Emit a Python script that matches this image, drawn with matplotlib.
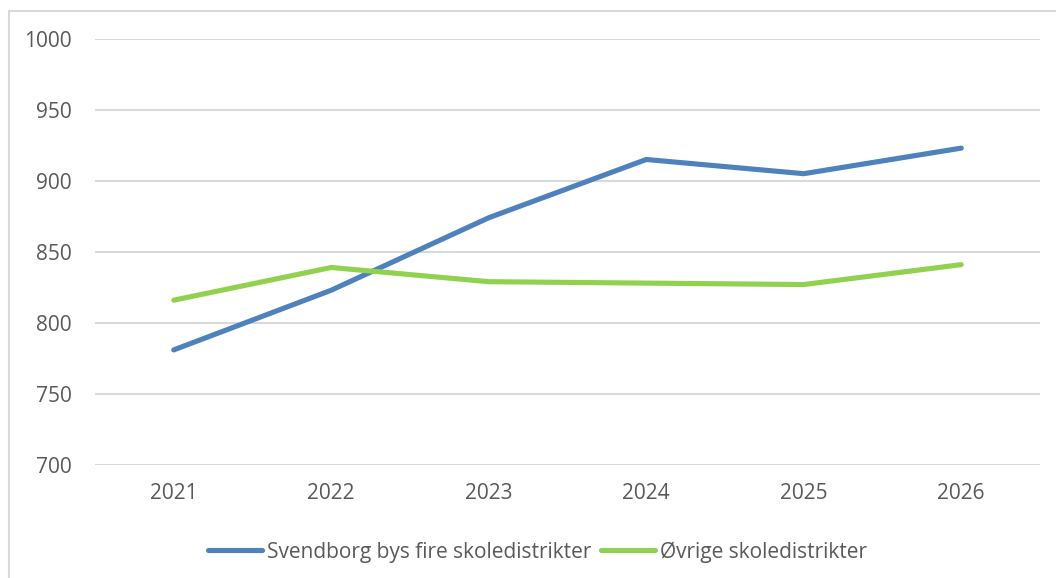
import matplotlib
matplotlib.use("Agg")
import matplotlib.pyplot as plt
from matplotlib.patches import Rectangle

# Data
years = ["2021", "2022", "2023", "2024", "2025", "2026"]
svendborg = [781, 823, 874, 915, 905, 923]
oevrige = [816, 839, 829, 828, 827, 841]

plt.rcParams['font.family'] = ['Open Sans', 'DejaVu Sans']

fig = plt.figure(figsize=(10.56, 5.78), dpi=100)
ax = fig.add_axes([95 / 1056, 1 - 465 / 578, (1040 - 95) / 1056, (465 - 38.7) / 578])

x = range(len(years))
ax.plot(x, svendborg, color="#4F81BD", linewidth=3.7, solid_capstyle="round",
        solid_joinstyle="round", label="Svendborg bys fire skoledistrikter", zorder=3)
ax.plot(x, oevrige, color="#92D050", linewidth=3.7, solid_capstyle="round",
        solid_joinstyle="round", label="Øvrige skoledistrikter", zorder=3)

ax.set_xlim(-0.5, 5.5)
ax.set_ylim(700, 1000)
ax.set_yticks(range(700, 1001, 50))
ax.set_xticks(list(x))
ax.set_xticklabels(years)
ax.grid(axis="y", color="#D9D9D9", linewidth=1.5)
ax.set_axisbelow(True)
for s in ax.spines.values():
    s.set_visible(False)
ax.tick_params(axis="both", length=0, labelsize=15, colors="#595959")
ax.tick_params(axis="y", pad=17)
ax.tick_params(axis="x", pad=13)

leg = ax.legend(loc="upper center", bbox_to_anchor=(0.468, -0.135), ncol=2, frameon=False,
                fontsize=15, handlelength=2.6, handletextpad=0.25, columnspacing=0.45)
for t in leg.get_texts():
    t.set_color("#595959")

# frame around the chart area
fig.patches.append(Rectangle((9 / 1056, -0.05), 1.2, 1 - 11 / 578 + 0.05,
                             transform=fig.transFigure, fill=False,
                             edgecolor="#D9D9D9", linewidth=1.5))

fig.savefig("out.png", dpi=100)
